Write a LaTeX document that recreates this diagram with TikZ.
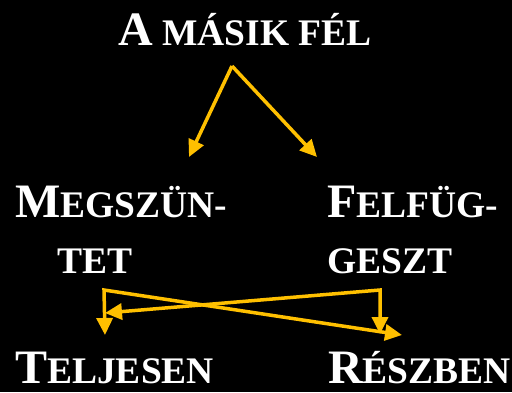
\documentclass[tikz,border=0pt]{standalone}
\usepackage{fontspec}
\setmainfont{Liberation Serif}
\usetikzlibrary{arrows.meta}
\definecolor{arany}{RGB}{255,192,0}
% kis kapitalis: nagy kezdobetu, kisebb nagybetuk
\newcommand{\kiskap}[2]{{\fontsize{48}{48}\selectfont #1}{\fontsize{37.5}{37.5}\selectfont #2}}

\begin{document}
\begin{tikzpicture}[x=1pt,y=-1pt,
  szo/.style={anchor=base west,inner sep=0pt,text depth=0pt,text=white,font=\bfseries},
  nyil/.style={draw=arany,line width=3.5pt,line join=miter,-{Triangle[length=17pt,width=16pt]}},
  ketnyil/.style={nyil,{Triangle[length=17pt,width=16pt]}-{Triangle[length=17pt,width=16pt]}}]
\fill[black] (0,0) rectangle (512,392);
\useasboundingbox (0,0) rectangle (512,392);

% szovegek
\node[szo] (cim) at (118,45) {\kiskap{A}{ MÁSIK FÉL}};
\node[szo] (megsz) at (15,217) {\kiskap{M}{EGSZÜN-}};
\node[szo] (tet) at (57,273) {\kiskap{}{TET}};
\node[szo] (felf) at (327,217) {\kiskap{F}{ELFÜG-}};
\node[szo] (geszt) at (327,273) {\kiskap{}{GESZT}};
\node[szo] (telj) at (15,383) {\kiskap{T}{ELJESEN}};
\node[szo] (resz) at (328,383) {\kiskap{R}{ÉSZBEN}};

% nyilak
\coordinate (csucs) at (232,66);
\coordinate (bal) at (189,157);
\coordinate (jobb) at (317,157);
\draw[nyil] (csucs) -- (bal);
\draw[nyil] (csucs) -- (jobb);

\coordinate (ag1) at (104,290);
\coordinate (ag2) at (380,290);
\coordinate (t1) at (105,335);
\coordinate (r1) at (402,335);
\coordinate (t2) at (105,313);
\coordinate (r2) at (380,334);
\draw[ketnyil] (t1) -- (ag1) -- (r1);
\draw[ketnyil] (t2) -- (ag2) -- (r2);
\end{tikzpicture}
\end{document}
